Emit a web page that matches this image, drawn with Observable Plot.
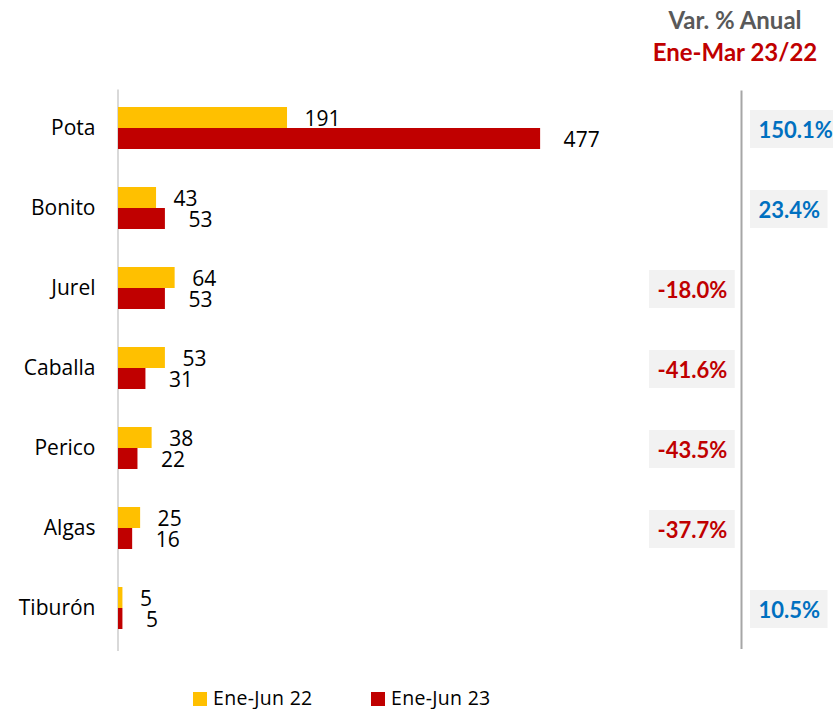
<!DOCTYPE html>
<html><head><meta charset="utf-8">
<script src="https://cdn.jsdelivr.net/npm/d3@7"></script>
<script src="https://cdn.jsdelivr.net/npm/@observablehq/plot@0.6"></script>
<style>
body{margin:0;background:#fff;width:833px;height:709px;overflow:hidden;font-family:"Open Sans",sans-serif;color:#000}
#header{position:relative;height:72px}
#header .l{position:absolute;left:635px;width:200px;text-align:center;font-family:Lato,sans-serif;font-weight:bold;font-size:24px;line-height:32px;white-space:nowrap}
#chart svg{display:block}
#legend{position:relative;height:25px}
#legend .item{position:absolute;top:8px;height:14px;display:flex;align-items:center;font-size:19.5px;white-space:nowrap}
#legend .sw{width:14px;height:14px;margin-right:6px;flex:none}
#legend .tx{position:relative;top:-2px;letter-spacing:0.3px}
</style>
</head><body>
<div id="header"></div>
<div id="chart"></div>
<div id="legend"></div>
<script>
const categories = ["Pota","Bonito","Jurel","Caballa","Perico","Algas","Tiburón"];
const ene22 = [191,43,64,53,38,25,5];
const ene23 = [477,53,53,31,22,16,5];
const varPct = [150.1,23.4,-18.0,-41.6,-43.5,-37.7,10.5];
const seriesNames = ["Ene-Jun 22","Ene-Jun 23"];
const seriesColors = ["#ffc000","#c00000"];
const headerLines = ["Var. % Anual","Ene-Mar 23/22"];
const xMax = 704;

// header
const header = document.getElementById("header");
[["#595959",4],["#c00000",36]].forEach(([c,t],i)=>{
  const d = document.createElement("div");
  d.className = "l"; d.style.top = t+"px"; d.style.color = c;
  d.textContent = headerLines[i];
  header.appendChild(d);
});

// legend
const legend = document.getElementById("legend");
[193, 371].forEach((left,i)=>{
  const it = document.createElement("div");
  it.className = "item"; it.style.left = left+"px";
  const sw = document.createElement("span");
  sw.className = "sw"; sw.style.background = seriesColors[i];
  const tx = document.createElement("span");
  tx.className = "tx";
  tx.textContent = seriesNames[i];
  it.appendChild(sw); it.appendChild(tx);
  legend.appendChild(it);
});

const rows22 = categories.map((c,i)=>({cat:c, v:ene22[i]}));
const rows23 = categories.map((c,i)=>({cat:c, v:ene23[i]}));
const varRows = categories.map((c,i)=>({cat:c, v:varPct[i], label: varPct[i].toFixed(1)+"%"}));
const negRows = varRows.filter(d=>d.v<0);
const posRows = varRows.filter(d=>d.v>=0);

const pctFontSize = 22;
const ctx = document.createElement("canvas").getContext("2d");
ctx.font = "bold " + pctFontSize + "px Lato";
const frameW = 623;
const pad = 8;
const negStart = 539, posStart = 640;
const boxMarks = varRows.map(d=>{
  const start = d.v < 0 ? negStart : posStart;
  const w = ctx.measureText(d.label).width;
  return Plot.cell([d], {y:"cat", fill:"#f2f2f2", insetLeft:start-pad, insetRight:frameW-(start+w+pad), insetTop:3, insetBottom:1});
});
const pctStyle = {y:"cat", text:"label", frameAnchor:"left", textAnchor:"start", fontFamily:"Lato", fontWeight:"bold", fontSize:pctFontSize, dy:2};

const plot = Plot.plot({
  width: 833, height: 612,
  marginLeft: 118, marginRight: 92, marginTop: 13.6, marginBottom: 33.1,
  style: {fontFamily: "Open Sans", fontSize: "21px", color: "#000", background: "#fff"},
  x: {domain: [0, xMax], axis: null},
  y: {domain: categories, paddingInner: 0.48, paddingOuter: 0.24, tickSize: 0, tickPadding: 23, label: null},
  marks: [
    ...boxMarks,
    Plot.ruleX([0], {stroke:"#d9d9d9", strokeWidth:2, dx:-0.5, insetTop:4}),
    Plot.ruleX([xMax], {stroke:"#a6a6a6", strokeWidth:2, insetTop:5, insetBottom:2}),
    Plot.barX(rows22, {y:"cat", x:"v", fill:seriesColors[0], insetBottom:21}),
    Plot.barX(rows23, {y:"cat", x:"v", fill:seriesColors[1], insetTop:21}),
    Plot.text(rows22, {y:"cat", x:"v", text:d=>String(d.v), textAnchor:"start", dx:17, dy:-9.5, fill:"#000"}),
    Plot.text(rows23, {y:"cat", x:"v", text:d=>String(d.v), textAnchor:"start", dx:23, dy:11.5, fill:"#000"}),
    Plot.text(negRows, {...pctStyle, dx:negStart, fill:"#c00000"}),
    Plot.text(posRows, {...pctStyle, dx:posStart, fill:"#0070c0"})
  ]
});
document.getElementById("chart").appendChild(plot);
</script>
</body></html>
